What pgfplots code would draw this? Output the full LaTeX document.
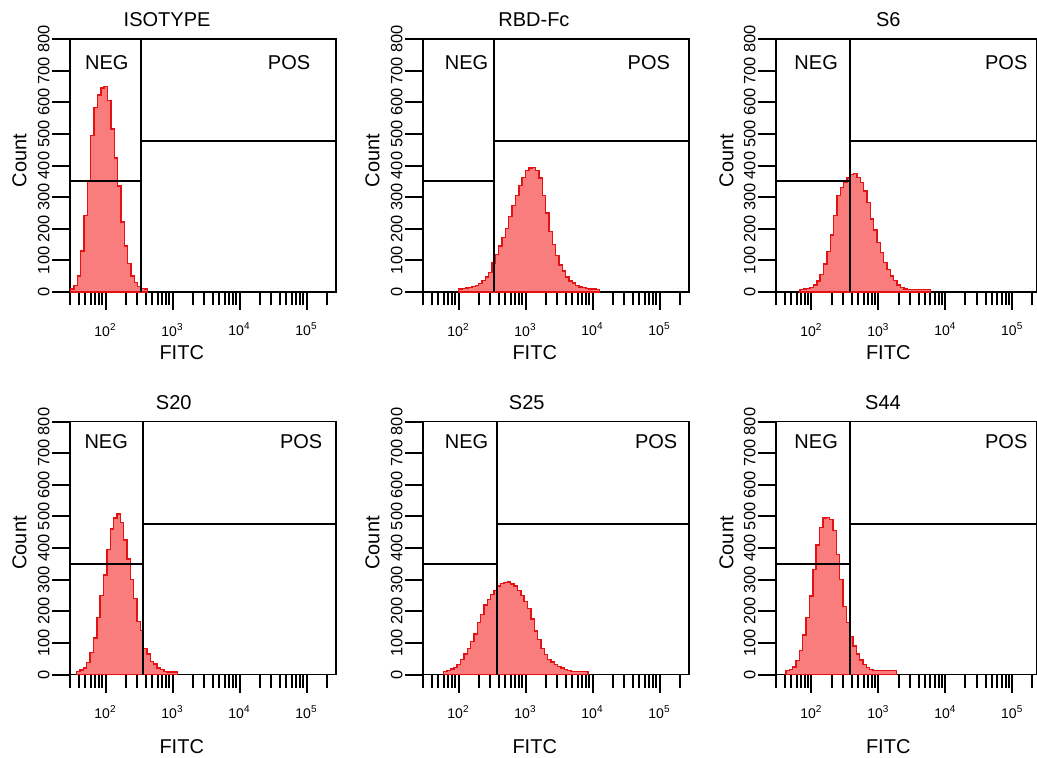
\documentclass[border=0pt]{standalone}
\usepackage{fontspec}
\setmainfont{Liberation Sans}
\usepackage{pgfplots}
\pgfplotsset{compat=1.18}

\definecolor{histfill}{RGB}{250,125,125}
\definecolor{histline}{RGB}{228,18,18}

% x runs in log10 units of FITC intensity
\pgfplotsset{
  facs/.style={
    scale only axis, anchor=south west,
    width=133pt, height=126.5pt,
    xmin=1.47, xmax=5.44, ymin=0, ymax=800,
    ytick={0,100,...,800},
    xtick={2,3,4,5},
    xticklabels={10\textsuperscript{2},10\textsuperscript{3},10\textsuperscript{4},10\textsuperscript{5}},
    minor xtick={1.477,1.602,1.699,1.778,1.845,1.903,1.954,
      2.301,2.477,2.602,2.699,2.778,2.845,2.903,2.954,
      3.301,3.477,3.602,3.699,3.778,3.845,3.903,3.954,
      4.301,4.477,4.602,4.699,4.778,4.845,4.903,4.954,5.301},
    tick align=outside, tick pos=left,
    major tick length=9pt, minor tick length=6.5pt,
    tick style={black, line width=1pt},
    axis line style={line width=0.9pt},
    /pgf/number format/assume math mode=true,
    yticklabel style={rotate=90, anchor=south, font=\fontsize{8.2}{9}\selectfont, inner sep=1pt},
    xticklabel style={font=\fontsize{7}{7}\selectfont, yshift=-3pt},
    ylabel=Count, xlabel=FITC,
    label style={font=\fontsize{10}{12}\selectfont},
    ylabel style={at={(axis description cs:-0.19,0.52)}, anchor=center},
    xlabel style={at={(axis description cs:0.42,0)}, anchor=base, yshift=-33.9pt},
    title style={at={(0.395,1)}, anchor=base, yshift=0.2pt, font=\fontsize{10}{12}\selectfont},
  },
  row2/.style={xlabel style={yshift=-5.4pt}},
  narrow/.style={width=130.5pt, xmax=5.37},
  hist/.style={const plot, draw=histline, fill=histfill, line width=0.7pt, mark=none},
  gate/.style={black, line width=0.9pt, mark=none},
}

\begin{document}
\begin{tikzpicture}
\path[use as bounding box] (0,0) rectangle (518.5pt,378.5pt);

% ISOTYPE
\begin{axis}[facs, at={(35pt,232.5pt)}, title=ISOTYPE, title style={at={(0.365,1)}}]
\addplot[hist] coordinates {(1.48,10)(1.53,20)(1.58,50)(1.63,130)(1.68,241)(1.73,351)(1.78,494)(1.83,584)(1.88,623)(1.93,645)(1.98,650)(2.03,605)(2.08,515)(2.13,424)(2.18,335)(2.23,222)(2.28,146)(2.33,90)(2.38,50)(2.43,30)(2.48,18)(2.53,12)(2.58,10)(2.63,10)} \closedcycle;
\addplot[gate] coordinates {(2.53,0)(2.53,800)};
\addplot[gate] coordinates {(1.47,350)(2.53,350)};
\addplot[gate] coordinates {(2.53,477)(5.44,477)};
\node[anchor=base] at (axis cs:2.02,705) {NEG};
\node[anchor=base] at (axis cs:4.74,705) {POS};
\end{axis}

% RBD-Fc
\begin{axis}[facs, at={(211.5pt,232.5pt)}, title=RBD-Fc, title style={at={(0.417,1)}}]
\addplot[hist] coordinates {(2.00,9)(2.05,11)(2.10,13)(2.15,15)(2.20,18)(2.25,21)(2.30,27)(2.35,37)(2.40,48)(2.45,62)(2.50,92)(2.55,118)(2.60,146)(2.65,172)(2.70,200)(2.75,238)(2.80,274)(2.85,306)(2.90,337)(2.95,363)(3.00,385)(3.05,392)(3.10,394)(3.15,385)(3.20,360)(3.25,305)(3.30,250)(3.35,192)(3.40,150)(3.45,115)(3.50,85)(3.55,66)(3.60,48)(3.65,35)(3.70,28)(3.75,21)(3.80,16)(3.85,14)(3.90,12)(3.95,10)(4.00,9)(4.05,8)(4.10,8)} \closedcycle;
\addplot[gate] coordinates {(2.535,0)(2.535,800)};
\addplot[gate] coordinates {(1.47,350)(2.535,350)};
\addplot[gate] coordinates {(2.535,477)(5.44,477)};
\node[anchor=base] at (axis cs:2.12,705) {NEG};
\node[anchor=base] at (axis cs:4.84,705) {POS};
\end{axis}

% S6
\begin{axis}[facs, narrow, at={(388pt,232.5pt)}, title=S6, title style={at={(0.43,1)}}, xlabel style={at={(axis description cs:0.43,0)}}]
\addplot[hist] coordinates {(1.83,7)(1.88,9)(1.93,11)(1.98,15)(2.03,22)(2.08,35)(2.13,55)(2.18,88)(2.23,128)(2.28,180)(2.33,242)(2.38,305)(2.43,330)(2.48,348)(2.53,361)(2.58,371)(2.63,375)(2.68,362)(2.73,346)(2.78,320)(2.83,283)(2.88,231)(2.93,196)(2.98,157)(3.03,125)(3.08,93)(3.13,72)(3.18,50)(3.23,36)(3.28,22)(3.33,15)(3.38,9)(3.43,7)(3.48,7)(3.53,7)(3.58,7)(3.63,7)(3.68,7)(3.73,7)(3.78,7)} \closedcycle;
\addplot[gate] coordinates {(2.575,0)(2.575,800)};
\addplot[gate] coordinates {(1.47,350)(2.575,350)};
\addplot[gate] coordinates {(2.575,477)(5.37,477)};
\node[anchor=base] at (axis cs:2.07,705) {NEG};
\node[anchor=base] at (axis cs:4.91,705) {POS};
\end{axis}

% S20
\begin{axis}[facs, row2, at={(35pt,41.25pt)}, title=S20, title style={at={(0.39,1)}}]
\addplot[hist] coordinates {(1.57,9)(1.62,14)(1.67,20)(1.72,38)(1.77,70)(1.82,115)(1.87,180)(1.92,250)(1.97,315)(2.02,395)(2.07,460)(2.12,495)(2.17,508)(2.22,480)(2.27,425)(2.32,365)(2.37,300)(2.42,240)(2.47,168)(2.52,140)(2.57,82)(2.62,65)(2.67,42)(2.72,33)(2.77,20)(2.82,15)(2.87,10)(2.92,8)(2.97,8)(3.02,8)(3.07,8)} \closedcycle;
\addplot[gate] coordinates {(2.565,0)(2.565,800)};
\addplot[gate] coordinates {(1.47,350)(2.565,350)};
\addplot[gate] coordinates {(2.565,477)(5.44,477)};
\node[anchor=base] at (axis cs:2.01,715) {NEG};
\node[anchor=base] at (axis cs:4.92,715) {POS};
\end{axis}

% S25
\begin{axis}[facs, row2, at={(211.5pt,41.25pt)}, title=S25, title style={at={(0.39,1)}}]
\addplot[hist] coordinates {(1.78,9)(1.83,13)(1.88,18)(1.93,22)(1.98,32)(2.03,48)(2.08,65)(2.13,82)(2.18,104)(2.23,128)(2.28,165)(2.33,190)(2.38,220)(2.43,238)(2.48,253)(2.53,265)(2.58,280)(2.63,287)(2.68,291)(2.73,293)(2.78,286)(2.83,280)(2.88,266)(2.93,250)(2.98,230)(3.03,208)(3.08,175)(3.13,138)(3.18,110)(3.23,82)(3.28,64)(3.33,48)(3.38,40)(3.43,32)(3.48,26)(3.53,21)(3.58,16)(3.63,12)(3.68,10)(3.73,10)(3.78,10)(3.83,10)(3.88,10)(3.93,10)} \closedcycle;
\addplot[gate] coordinates {(2.57,0)(2.57,800)};
\addplot[gate] coordinates {(1.47,350)(2.57,350)};
\addplot[gate] coordinates {(2.57,477)(5.44,477)};
\node[anchor=base] at (axis cs:2.12,715) {NEG};
\node[anchor=base] at (axis cs:4.95,715) {POS};
\end{axis}

% S44
\begin{axis}[facs, narrow, row2, at={(388pt,41.25pt)}, title=S44, title style={at={(0.41,1)}}, xlabel style={at={(axis description cs:0.43,0)}}]
\addplot[hist] coordinates {(1.62,12)(1.67,16)(1.72,24)(1.77,45)(1.82,75)(1.87,125)(1.92,180)(1.97,248)(2.02,333)(2.07,410)(2.12,465)(2.17,495)(2.22,497)(2.27,490)(2.32,455)(2.37,380)(2.42,300)(2.47,215)(2.52,165)(2.57,120)(2.62,90)(2.67,65)(2.72,46)(2.77,32)(2.82,22)(2.87,15)(2.92,12)(2.97,12)(3.02,12)(3.07,12)(3.12,12)(3.17,12)(3.22,12)(3.27,12)} \closedcycle;
\addplot[gate] coordinates {(2.575,0)(2.575,800)};
\addplot[gate] coordinates {(1.47,350)(2.575,350)};
\addplot[gate] coordinates {(2.575,477)(5.37,477)};
\node[anchor=base] at (axis cs:2.07,715) {NEG};
\node[anchor=base] at (axis cs:4.91,715) {POS};
\end{axis}
\end{tikzpicture}
\end{document}
